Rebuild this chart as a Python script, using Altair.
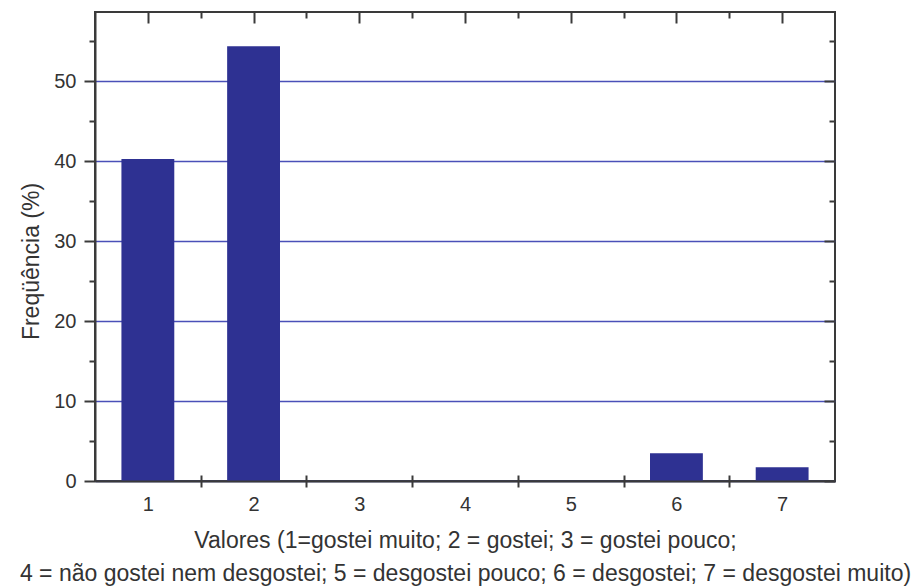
import altair as alt
import pandas as pd

# ---- data ----
categorias = [1, 2, 3, 4, 5, 6, 7]
frequencia = [40.25, 54.35, 0, 0, 0, 3.47, 1.72]

x_major = [1, 2, 3, 4, 5, 6, 7]
x_half = [1.5, 2.5, 3.5, 4.5, 5.5, 6.5]
y_major = [0, 10, 20, 30, 40, 50]
y_minor = [5, 15, 25, 35, 45, 55]

titulo_x = [
    "Valores (1=gostei muito; 2 = gostei; 3 = gostei pouco;",
    "4 = não gostei nem desgostei; 5 = desgostei pouco; 6 = desgostei; 7 = desgostei muito)",
]
titulo_y = "Freqüência (%)"

W = 740
H = 469
FONT = "Liberation Sans"
AX = "#3a3a3a"
TXT = "#333333"
BLUE = "#2e3192"
GRID = "#4a50b8"

df = pd.DataFrame({"valor": categorias, "freq": frequencia})

xscale = alt.Scale(domain=[0.5, 7.5], nice=False, zero=False, padding=0)
yscale = alt.Scale(domain=[0, 58.625], nice=False, padding=0)

base = alt.Chart(df).transform_calculate(
    x1="datum.valor - 0.25", x2="datum.valor + 0.25"
)

common_tick = dict(tickColor=AX, tickWidth=2, domain=False, labels=False, grid=False, title=None)

# bars + main axes (labels, titles, grid)
bars = base.mark_bar(color=BLUE, orient="vertical").encode(
    x=alt.X(
        "x1:Q",
        scale=xscale,
        axis=alt.Axis(
            values=x_major,
            ticks=False,
            tickSize=0,
            labelPadding=13,
            labelFont=FONT,
            labelFontSize=20,
            labelColor=TXT,
            format="d",
            grid=False,
            domain=True,
            domainColor=AX,
            domainWidth=2,
            zindex=1,
            title=titulo_x,
            titleFont=FONT,
            titleFontSize=23,
            titleFontWeight="normal",
            titleColor=TXT,
            titleLineHeight=33,
            titleAlign="center",
            titleBaseline="alphabetic",
            titleX=W / 2,
            titleY=66,
        ),
    ),
    x2="x2:Q",
    y=alt.Y(
        "freq:Q",
        scale=yscale,
        axis=alt.Axis(
            values=y_major,
            tickSize=11,
            tickColor=AX,
            tickWidth=2,
            labelPadding=8,
            labelFont=FONT,
            labelFontSize=20,
            labelColor=TXT,
            grid=True,
            gridColor=GRID,
            gridWidth=1.3,
            domain=True,
            domainColor=AX,
            domainWidth=2,
            title=titulo_y,
            titleFont=FONT,
            titleFontSize=23,
            titleFontWeight="normal",
            titleColor=TXT,
            titleAngle=270,
            titleAlign="center",
            titleBaseline="middle",
            titleX=-63.5,
            titleY=249,
        ),
    ),
    y2=alt.datum(0),
)

# bottom half-integer ticks crossing the axis + left minor ticks
l2 = base.mark_point(opacity=0).encode(
    x=alt.X("valor:Q", scale=xscale,
            axis=alt.Axis(values=x_half, orient="bottom", offset=-6, tickSize=12, **common_tick)),
    y=alt.Y("freq:Q", scale=yscale,
            axis=alt.Axis(values=y_minor, orient="left", tickSize=6, **common_tick)),
)

# top major inward ticks + right major inward ticks
l3 = base.mark_point(opacity=0).encode(
    x=alt.X("valor:Q", scale=xscale,
            axis=alt.Axis(values=x_major, orient="top", offset=-11, tickSize=11, **common_tick)),
    y=alt.Y("freq:Q", scale=yscale,
            axis=alt.Axis(values=y_major, orient="right", offset=-11, tickSize=11, **common_tick)),
)

# top minor inward ticks + right minor inward ticks
l4 = base.mark_point(opacity=0).encode(
    x=alt.X("valor:Q", scale=xscale,
            axis=alt.Axis(values=x_half, orient="top", offset=-6, tickSize=6, **common_tick)),
    y=alt.Y("freq:Q", scale=yscale,
            axis=alt.Axis(values=y_minor, orient="right", offset=-6, tickSize=6, **common_tick)),
)

chart = (
    alt.layer(bars, l2, l3, l4)
    .resolve_axis(x="independent", y="independent")
    .properties(
        width=W,
        height=H,
        autosize=alt.AutoSizeParams(type="none"),
        padding={"left": 87, "top": 4, "right": 79, "bottom": 105},
        background="white",
    )
    .configure_view(stroke=AX, strokeWidth=2)
)

chart.save("out.html", embed_options={"renderer": "svg", "actions": False})
